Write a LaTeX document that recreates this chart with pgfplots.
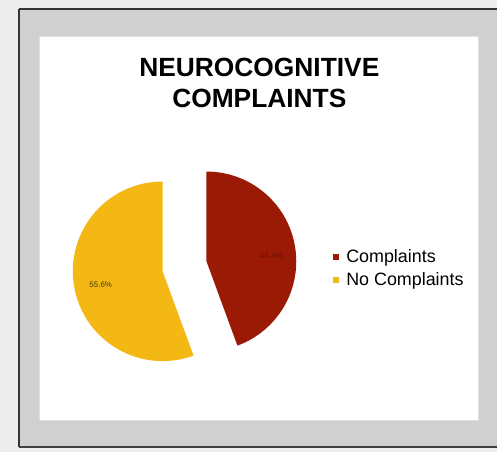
\documentclass[border=0pt]{standalone}
\usepackage{pgfplots}
\pgfplotsset{compat=1.18}
\usepackage{fontspec}
\setmainfont{Liberation Sans}
\definecolor{bgout}{HTML}{EDEDED}
\definecolor{frame}{HTML}{D0D0D0}
\definecolor{cRed}{HTML}{9A1A06}
\definecolor{cYel}{HTML}{F4B815}
\def\valA{44.4}% Complaints (%)
\def\valB{55.6}% No Complaints (%)
\begin{document}
\begin{tikzpicture}
\begin{axis}[
  width=498bp, height=453bp, scale only axis,
  xmin=0, xmax=498, ymin=0, ymax=453,
  hide axis, clip=false,
  legend style={draw=none, fill=none, at={(axis cs:334,205)}, anchor=north west,
    font=\fontsize{18}{20}\selectfont, row sep=5pt, inner sep=0pt},
  legend cell align=left,
  legend image code/.code={\fill[#1, draw=none] (0pt,-3pt) rectangle (6pt,3pt);
    \path[draw=none, fill=none] (0pt,0pt) -- (11pt,0pt);},
]
% backgrounds
\fill[bgout] (axis cs:0,0) rectangle (axis cs:498,453);
\fill[frame] (axis cs:19,5) rectangle (axis cs:498,444);
\draw[black!80, line width=1.6bp] (axis cs:19,444) -- (axis cs:498,444);
\draw[black!80, line width=1.6bp] (axis cs:19,5) -- (axis cs:19,444);
\draw[black!75, line width=2.5bp] (axis cs:19,5) -- (axis cs:498,5);
\fill[white, draw=black!12, line width=1bp] (axis cs:40,31) rectangle (axis cs:480,416);
% title
\node[font=\fontsize{26.5}{31}\selectfont\bfseries, align=center] at (axis cs:260,370)
  {NEUROCOGNITIVE\\COMPLAINTS};
% pie slices (exploded)
\pgfmathsetmacro{\angA}{3.6*\valA}
\pgfmathsetmacro{\endA}{90-\angA}
\fill[cRed] (axis cs:207,191) -- ++(90:90bp) arc[start angle=90, end angle=\endA, radius=90bp] -- cycle;
\pgfmathsetmacro{\endB}{90+3.6*\valB}
\fill[cYel] (axis cs:163,181) -- ++(90:90bp) arc[start angle=90, end angle=\endB, radius=90bp] -- cycle;
% data labels
\node[font=\fontsize{8}{9}\selectfont, text=cRed!70!black] at (axis cs:272,197) {44.4\%};
\node[font=\fontsize{8}{9}\selectfont, text=black!70!cYel] at (axis cs:101,168) {55.6\%};
\addlegendimage{fill=cRed}
\addlegendentry{Complaints}
\addlegendimage{fill=cYel}
\addlegendentry{No Complaints}
\end{axis}
\end{tikzpicture}
\end{document}
